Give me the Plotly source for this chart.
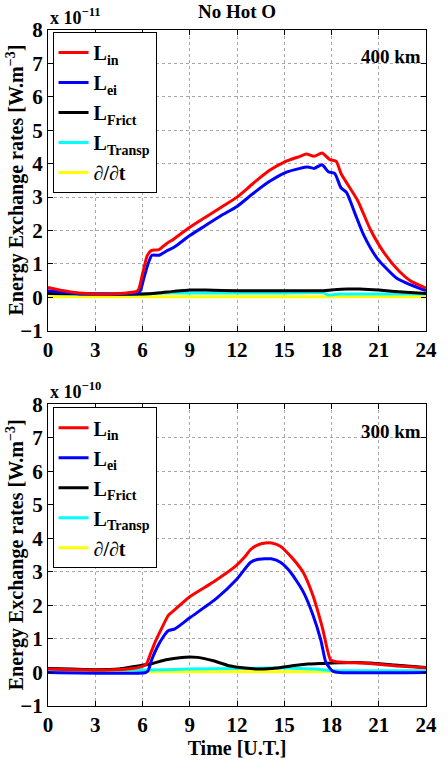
import plotly.graph_objects as go

# ---------------- data ----------------
# 400 km panel (units of 1e-11 W m^-3)
t_in400 = [0, 1, 2, 3, 4, 5, 5.7, 6.0, 6.3, 6.55, 7.05, 7.5, 8, 9, 10, 11, 12, 13, 14, 15, 16,
           16.4, 16.9, 17.4, 17.9, 18.3, 18.6, 19, 19.66, 20.47, 21.3, 22.3, 23, 24]
v_in400 = [0.3, 0.2, 0.13, 0.1, 0.1, 0.13, 0.2, 0.7, 1.25, 1.40, 1.43, 1.6, 1.75, 2.1, 2.4, 2.7, 3.0,
           3.4, 3.78, 4.05, 4.22, 4.29, 4.22, 4.32, 4.12, 4.07, 3.71, 3.4, 2.9, 2.03, 1.36, 0.78, 0.5, 0.28]

t_ei400 = [0, 1, 2, 3, 4, 5, 5.8, 6.1, 6.35, 6.6, 7.05, 7.5, 8, 9, 10, 11, 12, 13, 14, 15, 16,
           16.5, 16.9, 17.4, 17.8, 18.2, 18.6, 18.95, 19.5, 20.07, 20.9, 22.1, 23, 24]
v_ei400 = [0.2, 0.15, 0.1, 0.1, 0.1, 0.12, 0.15, 0.6, 1.0, 1.26, 1.26, 1.38, 1.5, 1.85, 2.15, 2.45, 2.72,
           3.1, 3.45, 3.72, 3.86, 3.90, 3.86, 3.97, 3.76, 3.71, 3.28, 3.14, 2.5, 1.84, 1.17, 0.59, 0.38, 0.2]

t_fr400 = [0, 3, 6, 7, 8, 9, 10, 12, 15, 17.5, 18, 19, 19.8, 21, 22, 24]
v_fr400 = [0.12, 0.1, 0.1, 0.13, 0.18, 0.22, 0.22, 0.2, 0.2, 0.2, 0.22, 0.25, 0.25, 0.22, 0.18, 0.12]

t_tr400 = [0, 6, 7, 9, 12, 15, 17.5, 17.8, 18.5, 21, 24]
v_tr400 = [0.12, 0.1, 0.13, 0.13, 0.13, 0.13, 0.14, 0.07, 0.1, 0.1, 0.1]

t_dt400 = [0, 6, 12, 18, 24]
v_dt400 = [0.02, 0.02, 0.02, 0.02, 0.02]

# 300 km panel (units of 1e-10 W m^-3)
t_in300 = [0, 3, 5, 6, 6.25, 6.5, 6.84, 7.2, 7.65, 8, 9, 10.5, 11.93, 12.5, 12.85, 13.3, 13.8, 14.2,
           14.78, 15.4, 15.8, 16.2, 16.81, 17.42, 17.94, 18.2, 19, 20.1, 22, 24]
v_in300 = [0.1, 0.07, 0.1, 0.18, 0.25, 0.55, 0.95, 1.3, 1.71, 1.85, 2.26, 2.70, 3.18, 3.45, 3.66, 3.8,
           3.86, 3.86, 3.76, 3.47, 3.25, 2.99, 2.31, 1.34, 0.37, 0.33, 0.3, 0.28, 0.2, 0.14]

t_ei300 = [0, 6.2, 6.35, 6.6, 6.94, 7.3, 7.65, 8.06, 9, 10.7, 12.0, 12.85, 13.3, 13.76, 14.17, 14.78,
           15.4, 16.2, 16.81, 17.33, 17.63, 17.94, 18.1, 18.5, 24]
v_ei300 = [0.0, 0.0, 0.05, 0.4, 0.76, 1.05, 1.25, 1.30, 1.63, 2.21, 2.79, 3.28, 3.37, 3.39, 3.39, 3.28,
           2.99, 2.41, 1.73, 0.95, 0.32, 0.1, 0.03, 0.0, 0.0]

t_fr300 = [0, 1.5, 3, 4.5, 5.5, 6.5, 7.5, 8.5, 9, 9.5, 10.5, 11.5, 12.5, 13.5, 14.5, 15.5, 16.5,
           17.5, 18.5, 19.5, 20.5, 22, 24]
v_fr300 = [0.12, 0.1, 0.08, 0.1, 0.18, 0.25, 0.38, 0.45, 0.46, 0.45, 0.35, 0.2, 0.13, 0.1, 0.13, 0.2,
           0.25, 0.27, 0.29, 0.3, 0.28, 0.22, 0.15]

t_tr300 = [0, 6, 9, 12, 14, 15, 16, 17, 18, 20, 24]
v_tr300 = [0.07, 0.07, 0.1, 0.12, 0.13, 0.13, 0.12, 0.1, 0.06, 0.05, 0.05]

t_dt300 = [0, 6, 12, 18, 24]
v_dt300 = [0.02, 0.02, 0.02, 0.02, 0.02]

names = ["<b>L<sub>in</sub></b>", "<b>L<sub>ei</sub></b>", "<b>L<sub>Frict</sub></b>",
         "<b>L<sub>Transp</sub></b>", "∂/∂t"]
colors = ["#ff0000", "#0000ff", "#000000", "#00ffff", "#ffff00"]
x_ticks = [0, 3, 6, 9, 12, 15, 18, 21, 24]
y_ticks = [-1, 0, 1, 2, 3, 4, 5, 6, 7, 8]

panel400 = [(t_in400, v_in400), (t_ei400, v_ei400), (t_fr400, v_fr400), (t_tr400, v_tr400), (t_dt400, v_dt400)]
panel300 = [(t_in300, v_in300), (t_ei300, v_ei300), (t_fr300, v_fr300), (t_tr300, v_tr300), (t_dt300, v_dt300)]

FONT = "Liberation Serif"

fig = go.Figure()
order = [4, 3, 2, 1, 0]
for i in order:
    t, v = panel400[i]
    fig.add_trace(go.Scatter(x=t, y=v, mode="lines", name=names[i], legend="legend",
                             legendrank=i + 1, legendgroup="a%d" % i,
                             line=dict(color=colors[i], width=3, shape="spline", smoothing=0.6),
                             xaxis="x", yaxis="y"))
for i in order:
    t, v = panel300[i]
    fig.add_trace(go.Scatter(x=t, y=v, mode="lines", name=names[i], legend="legend2",
                             legendrank=i + 1, legendgroup="b%d" % i,
                             line=dict(color=colors[i], width=3, shape="spline", smoothing=0.6),
                             xaxis="x2", yaxis="y2"))

axis_common = dict(showline=True, linecolor="black", linewidth=1.2, mirror="ticks",
                   ticks="inside", ticklen=5, tickcolor="black",
                   showgrid=True, gridcolor="#a8a8a8", griddash="dot", gridwidth=1,
                   zeroline=False, tickfont=dict(family=FONT, size=21, color="black", weight="bold"))

leg_common = dict(xanchor="left", yanchor="top", bgcolor="white",
                  bordercolor="black", borderwidth=1,
                  font=dict(family=FONT, size=20, color="black", weight="bold"),
                  tracegroupgap=1, itemwidth=30)

fig.update_layout(
    width=448, height=762,
    margin=dict(l=48, r=11, t=30, b=42),
    paper_bgcolor="white", plot_bgcolor="white",
    font=dict(family=FONT, color="black"),
    xaxis=dict(domain=[0, 1], range=[0, 24], tickvals=x_ticks, anchor="y", **axis_common),
    yaxis=dict(domain=[0.555, 1], range=[-1, 8], tickvals=y_ticks, anchor="x", **axis_common),
    xaxis2=dict(domain=[0, 1], range=[0, 24], tickvals=x_ticks, anchor="y2",
                title=dict(text="<b>Time [U.T.]</b>", font=dict(family=FONT, size=20), standoff=0),
                **axis_common),
    yaxis2=dict(domain=[0, 0.4464], range=[-1, 8], tickvals=y_ticks, anchor="x2", **axis_common),
    legend=dict(x=0.012, y=0.997, **leg_common),
    legend2=dict(x=0.012, y=0.442, **leg_common),
    showlegend=True,
)

ann_font = dict(family=FONT, size=19, color="black")
fig.add_annotation(text="<b>No Hot O</b>", xref="paper", yref="paper", x=0.5, y=1.0, yshift=6,
                   xanchor="center", yanchor="bottom", showarrow=False, font=dict(family=FONT, size=19))
fig.add_annotation(text="<b>x 10<sup>−11</sup></b>", xref="paper", yref="paper", x=0, y=1.0,
                   xanchor="left", yanchor="bottom", showarrow=False, font=dict(family=FONT, size=18))
fig.add_annotation(text="<b>x 10<sup>−10</sup></b>", xref="paper", yref="paper", x=0, y=0.4464,
                   xanchor="left", yanchor="bottom", showarrow=False, font=dict(family=FONT, size=18))
fig.add_annotation(text="<b>400 km</b>", xref="x", yref="y", x=23.8, y=7.2,
                   xanchor="right", yanchor="middle", showarrow=False, font=ann_font)
fig.add_annotation(text="<b>300 km</b>", xref="x2", yref="y2", x=23.8, y=7.2,
                   xanchor="right", yanchor="middle", showarrow=False, font=ann_font)
for ymid in [0.7775, 0.2232]:
    fig.add_annotation(text="<b>Energy Exchange rates [W.m<sup>−3</sup>]</b>", xref="paper", yref="paper",
                       x=-0.087, y=ymid, textangle=-90, xanchor="center", yanchor="middle",
                       showarrow=False, font=dict(family=FONT, size=20))

fig.write_html("out.html")
